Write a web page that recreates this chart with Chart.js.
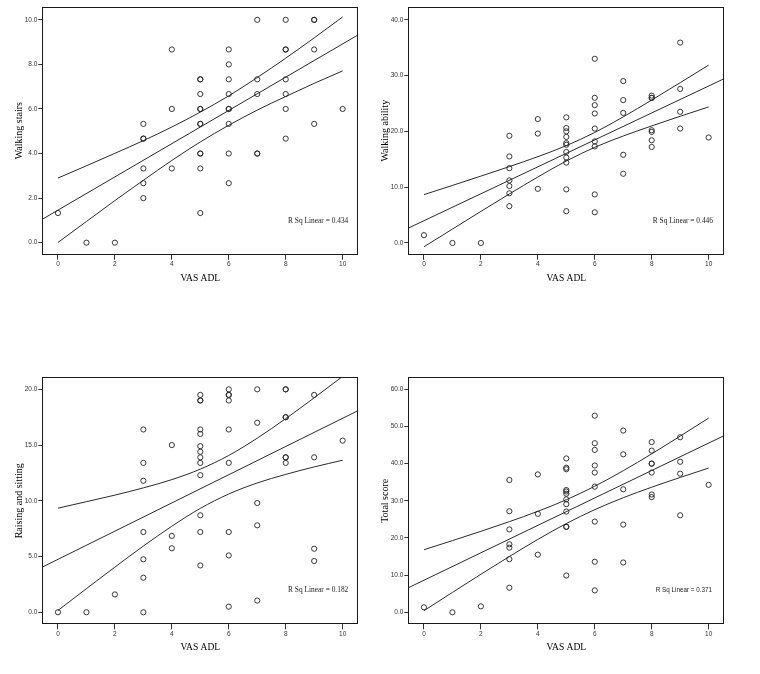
<!DOCTYPE html>
<html><head><meta charset="utf-8">
<script src="https://cdn.jsdelivr.net/npm/chart.js@4.4.1/dist/chart.umd.min.js"></script>
<style>
html,body{margin:0;padding:0;background:#fff;width:760px;height:674px;overflow:hidden}
.p{position:absolute}
</style></head><body>
<canvas id="c1" class="p" width="380" height="300" style="left:0;top:0"></canvas>
<canvas id="c2" class="p" width="385" height="300" style="left:375px;top:0"></canvas>
<canvas id="c3" class="p" width="380" height="334" style="left:0;top:340px"></canvas>
<canvas id="c4" class="p" width="385" height="334" style="left:375px;top:340px"></canvas>
<script>
// ---------- data ----------
const xTicks = [0, 2, 4, 6, 8, 10];
const ciX = [0, 1, 2, 3, 4, 5, 6, 7, 8, 9, 10];
const fitX = [-0.55, 10.55];

// Walking stairs
const stairsX = [0,1,2, 3,3,3,3,3,3, 4,4,4, 5,5,5,5,5,5,5,5,5,5,5, 6,6,6,6,6,6,6,6,6, 7,7,7,7,7, 8,8,8,8,8,8,8, 9,9,9,9, 10];
const stairsY = [1.33,0,0, 5.33,4.67,4.67,3.33,2.67,2.0, 8.67,6.0,3.33, 7.33,7.33,6.67,6.0,6.0,5.33,5.33,4.0,4.0,3.33,1.33, 8.67,8.0,7.33,6.67,6.0,6.0,5.33,4.0,2.67, 10,7.33,6.67,4.0,4.0, 10,8.67,8.67,7.33,6.67,6.0,4.67, 10,10,8.67,5.33, 6.0];
const stairsFit = [1.05, 9.33];
const stairsUpper = [2.90,3.45,4.01,4.58,5.19,5.86,6.59,7.41,8.28,9.19,10.13];
const stairsLower = [0.01,0.95,1.89,2.80,3.69,4.52,5.27,5.95,6.56,7.15,7.71];
const stairsTicks = [0, 2, 4, 6, 8, 10];

// Walking ability
const abilityX = [0,1,2, 3,3,3,3,3,3,3, 4,4,4, 5,5,5,5,5,5,5,5,5,5,5, 6,6,6,6,6,6,6,6,6, 7,7,7,7,7, 8,8,8,8,8,8,8, 9,9,9,9, 10];
const abilityY = [1.4,0,0, 19.2,15.5,13.4,11.2,10.2,8.9,6.6, 22.2,19.6,9.7, 22.5,20.6,20.0,19.0,17.9,17.6,16.3,15.3,14.4,9.6,5.7, 33.0,26.0,24.7,23.2,20.5,18.2,17.3,8.7,5.5, 29.0,25.6,23.3,15.8,12.4, 26.4,26.0,26.0,20.2,19.9,18.4,17.2, 35.9,27.6,23.5,20.5, 18.9];
const abilityFit = [2.66, 29.45];
const abilityUpper = [8.66,10.31,11.98,13.68,15.46,17.44,19.80,22.59,25.61,28.72,31.87];
const abilityLower = [-0.68,2.49,5.66,8.78,11.82,14.68,17.14,19.17,20.97,22.70,24.37];
const abilityTicks = [0, 10, 20, 30, 40];

// Raising and sitting
const raisingX = [0,1,2, 3,3,3,3,3,3,3, 4,4,4, 5,5,5,5,5,5,5,5,5,5,5,5,5, 6,6,6,6,6,6,6,6,6, 7,7,7,7,7, 8,8,8,8,8,8,8, 9,9,9,9, 10];
const raisingY = [0,0,1.6, 16.4,13.4,11.8,7.2,4.75,3.1,0, 15.0,6.85,5.74, 19.5,19.0,19.0,16.4,16.0,14.9,14.4,13.9,13.4,12.3,8.7,7.2,4.2, 20.0,19.5,19.5,19.0,16.4,13.4,7.2,5.1,0.5, 20.0,17.0,9.8,7.8,1.05, 20.0,20.0,17.5,17.5,13.9,13.9,13.4, 19.5,13.9,5.7,4.6, 15.4];
const raisingFit = [4.05, 18.10];
const raisingUpper = [9.34,9.92,10.51,11.16,11.90,12.84,14.07,15.62,17.37,19.24,21.16];
const raisingLower = [0.16,2.12,4.05,5.94,7.72,9.32,10.61,11.60,12.37,13.04,13.64];
const raisingTicks = [0, 5, 10, 15, 20];

// Total score
const totalX = [0,1,2, 3,3,3,3,3,3,3, 4,4,4, 5,5,5,5,5,5,5,5,5,5,5,5, 6,6,6,6,6,6,6,6,6, 7,7,7,7,7, 8,8,8,8,8,8,8, 9,9,9,9, 10];
const totalY = [1.35,0,1.6, 35.6,27.2,22.3,18.3,17.4,14.3,6.6, 37.1,26.5,15.5, 41.4,38.9,38.5,32.9,32.5,31.9,30.4,29.1,27.1,23.0,23.0,9.9, 52.9,45.5,43.7,39.5,37.6,33.8,24.4,13.6,5.9, 48.9,42.5,33.1,23.6,13.4, 45.8,43.5,40.0,40.0,37.6,31.7,31.0, 47.1,40.5,37.3,26.1, 34.3];
const totalFit = [6.60, 47.56];
const totalUpper = [16.83,19.29,21.79,24.39,27.17,30.28,33.92,38.09,42.64,47.40,52.25];
const totalLower = [0.43,5.35,10.23,15.01,19.61,23.88,27.62,30.83,33.66,36.28,38.81];
const totalTicks = [0, 10, 20, 30, 40, 50, 60];

// ---------- drawing ----------
const INK = '#222';
const pairs = (xs, ys) => xs.map((x, i) => ({x: x, y: ys[i]}));

const boxPlugin = {
  id: 'box',
  afterDatasetsDraw(chart) {
    const a = chart.chartArea, ctx = chart.ctx;
    ctx.save();
    ctx.strokeStyle = '#1a1a1a';
    ctx.lineWidth = 1;
    const l = Math.round(a.left) + 0.5, t = Math.round(a.top) + 0.5;
    const r = Math.round(a.right) - 0.5, b = Math.round(a.bottom) - 0.5;
    ctx.strokeRect(l, t, r - l, b - t);
    ctx.restore();
  }
};
const rsqPlugin = {
  id: 'rsq',
  afterDraw(chart, args, o) {
    if (!o || !o.text) return;
    const a = chart.chartArea, ctx = chart.ctx;
    ctx.save();
    ctx.font = o.font;
    ctx.fillStyle = INK;
    ctx.textAlign = 'right';
    ctx.textBaseline = 'middle';
    ctx.fillText(o.text, a.right - o.dx, a.bottom - o.dy);
    ctx.restore();
  }
};

function panel(id, c) {
  const lineDs = (xs, ys) => ({
    type: 'scatter', data: pairs(xs, ys), showLine: true, pointRadius: 0,
    borderColor: '#2a2a2a', borderWidth: 1, fill: false, cubicInterpolationMode: 'monotone'
  });
  new Chart(document.getElementById(id), {
    type: 'scatter',
    data: {
      datasets: [
        {data: pairs(c.x, c.y), pointStyle: 'circle', pointRadius: 2.6, borderWidth: 0.9,
         borderColor: INK, backgroundColor: 'rgba(0,0,0,0)'},
        lineDs(fitX, c.fit),
        lineDs(ciX, c.upper),
        lineDs(ciX, c.lower)
      ]
    },
    options: {
      responsive: false, animation: false, events: [],
      layout: {padding: {left: 0, top: c.padTop, right: c.padRight, bottom: 0}},
      plugins: {legend: {display: false}, tooltip: {enabled: false},
        rsq: {text: c.rsq, font: c.rsqFont, dx: c.rsqDx, dy: c.rsqDy}},
      scales: {
        x: {
          type: 'linear', min: -0.55, max: 10.55,
          afterBuildTicks: s => { s.ticks = xTicks.map(v => ({value: v})); },
          afterFit: s => { s.height = c.xHeight; },
          grid: {drawOnChartArea: false, drawTicks: true, tickLength: 5, color: '#333'},
          border: {display: false},
          ticks: {padding: 1, color: '#333', font: {family: 'Liberation Sans, Arial, sans-serif', size: 6.5},
                  maxRotation: 0, autoSkip: false, callback: v => String(v)},
          title: {display: true, text: 'VAS ADL', color: '#000',
                  font: {family: 'Liberation Serif, Times New Roman, serif', size: 9.5},
                  padding: {top: 0, bottom: c.xTitlePad}}
        },
        y: {
          type: 'linear', min: c.yMin, max: c.yMax,
          afterBuildTicks: s => { s.ticks = c.ticks.map(v => ({value: v})); },
          afterFit: s => { s.width = c.yWidth; },
          grid: {drawOnChartArea: false, drawTicks: true, tickLength: 4, color: '#333'},
          border: {display: false},
          ticks: {padding: 1, color: '#333', font: {family: 'Liberation Sans, Arial, sans-serif', size: 6.5},
                  autoSkip: false, callback: v => Number(v).toFixed(1)},
          title: {display: true, text: c.title, color: '#000',
                  font: {family: 'Liberation Serif, Times New Roman, serif', size: 10},
                  padding: {top: c.yTitlePad, bottom: 0}}
        }
      }
    },
    plugins: [boxPlugin, rsqPlugin]
  });
}

const serifSmall = '7.4px "Liberation Serif", serif';
const sansSmall = '6.3px "Liberation Sans", Arial, sans-serif';

panel('c1', {x: stairsX, y: stairsY, fit: stairsFit, upper: stairsUpper, lower: stairsLower,
  ticks: stairsTicks, yMin: -0.54, yMax: 10.59, title: 'Walking stairs',
  padTop: 6.7, padRight: 21.7, yWidth: 42.3, xHeight: 45.3, yTitlePad: 13.2, xTitlePad: 16,
  rsq: 'R Sq Linear = 0.434', rsqFont: serifSmall, rsqDx: 10, rsqDy: 33.7});
panel('c2', {x: abilityX, y: abilityY, fit: abilityFit, upper: abilityUpper, lower: abilityLower,
  ticks: abilityTicks, yMin: -2.1, yMax: 42.33, title: 'Walking ability',
  padTop: 6.7, padRight: 35.7, yWidth: 33.3, xHeight: 45.3, yTitlePad: 4, xTitlePad: 16,
  rsq: 'R Sq Linear = 0.446', rsqFont: serifSmall, rsqDx: 11.3, rsqDy: 33.7});
panel('c3', {x: raisingX, y: raisingY, fit: raisingFit, upper: raisingUpper, lower: raisingLower,
  ticks: raisingTicks, yMin: -1.08, yMax: 21.08, title: 'Raising and sitting',
  padTop: 37.3, padRight: 21.7, yWidth: 42.3, xHeight: 49.7, yTitlePad: 13.2, xTitlePad: 20.7,
  rsq: 'R Sq Linear = 0.182', rsqFont: serifSmall, rsqDx: 10, rsqDy: 34.3});
panel('c4', {x: totalX, y: totalY, fit: totalFit, upper: totalUpper, lower: totalLower,
  ticks: totalTicks, yMin: -3.23, yMax: 63.23, title: 'Total score',
  padTop: 37.3, padRight: 35.7, yWidth: 33.3, xHeight: 49.7, yTitlePad: 4, xTitlePad: 20.7,
  rsq: 'R Sq Linear = 0.371', rsqFont: sansSmall, rsqDx: 12.3, rsqDy: 34.3});
</script>
</body></html>
